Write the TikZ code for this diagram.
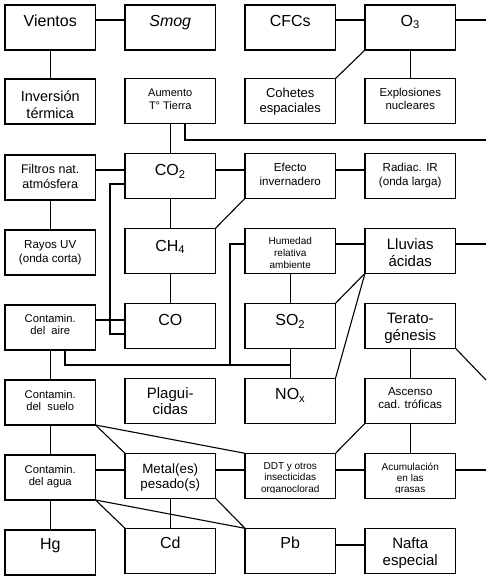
\documentclass[tikz,border=0pt]{standalone}
\usepackage{fontspec}
\setmainfont{Liberation Sans}
\newcommand{\fs}[2]{\fontsize{#1pt}{#2pt}\selectfont}
\newcommand{\bxt}[4][10]{%
  \begin{scope}
    \clip (#2.south west) rectangle (#2.north east);
    \node[txt,font={#3}] (#2-t) at ([yshift=-#1pt]#2.north) {#4};
  \end{scope}}
\newcommand{\bxc}[4][10]{%
  \begin{scope}
    \clip ([yshift=6pt]#2.south west) rectangle (#2.north east);
    \node[txt,font={#3}] (#2-t) at ([yshift=-#1pt]#2.north) {#4};
  \end{scope}}
\tikzset{
  bx/.style={draw, line width=1.1pt, rectangle, minimum width=90.5pt, minimum height=45pt, inner sep=0pt, outer sep=0pt, anchor=north west},
  txt/.style={anchor=north, inner sep=0pt, align=center},
  ln/.style={line width=1.1pt}
}
\begin{document}
\begin{tikzpicture}[x=1pt,y=-1pt]
\fill[white] (0,0) rectangle (493,582);
\useasboundingbox (0,0) rectangle (493,582);
% boxes
\node[bx] (vientos) at (5,5) {};
\node[bx] (smog) at (125,5) {};
\node[bx] (cfcs) at (245,5) {};
\node[bx] (o3) at (365,5) {};
\node[bx] (inversion) at (5,79) {};
\node[bx] (aumento) at (125,78.5) {};
\node[bx] (cohetes) at (245,78.5) {};
\node[bx] (explos) at (365,78.5) {};
\node[bx] (filtros) at (5,155) {};
\node[bx] (co2) at (125,153.3) {};
\node[bx] (efecto) at (245,153.3) {};
\node[bx] (radiac) at (365,153.3) {};
\node[bx] (rayos) at (5,230) {};
\node[bx] (ch4) at (125,228.3) {};
\node[bx] (humedad) at (245,228.3) {};
\node[bx] (lluvias) at (365,228.3) {};
\node[bx] (aire) at (5,305) {};
\node[bx] (co) at (125,303.3) {};
\node[bx] (so2) at (245,303.3) {};
\node[bx] (terato) at (365,303.3) {};
\node[bx] (suelo) at (5,380) {};
\node[bx] (plag) at (125,378.3) {};
\node[bx] (nox) at (245,378.3) {};
\node[bx] (ascenso) at (365,378.3) {};
\node[bx] (agua) at (5,455) {};
\node[bx] (metal) at (125,453.3) {};
\node[bx] (ddt) at (245,453.3) {};
\node[bx] (acum) at (365,453.3) {};
\node[bx] (hg) at (5,530) {};
\node[bx] (cd) at (125,528.3) {};
\node[bx] (pb) at (245,528.3) {};
\node[bx] (nafta) at (365,528.3) {};
% texts
\bxt{vientos}{\fs{16}{18.4}}{Vientos}
\bxt{smog}{\fs{16}{18.4}\itshape}{Smog}
\bxt{cfcs}{\fs{16}{18.4}}{CFCs}
\bxt{o3}{\fs{16}{18.4}}{O\textsubscript{3}}
\bxt[11.5]{inversion}{\fs{14.5}{16.7}}{Inversión\\térmica}
\bxt{aumento}{\fs{11}{13.3}}{Aumento\\T° Tierra}
\bxt[9.5]{cohetes}{\fs{13}{15.3}}{Cohetes\\espaciales}
\bxt{explos}{\fs{11.4}{13}}{Explosiones\\nucleares}
\bxt[9]{filtros}{\fs{12.5}{15}}{Filtros nat.\\atmósfera}
\bxt[11]{co2}{\fs{16}{18.4}}{CO\textsubscript{2}}
\bxt[9.5]{efecto}{\fs{11.6}{14.2}}{Efecto\\invernadero}
\bxt[9.5]{radiac}{\fs{11.6}{14.2}}{Radiac. IR\\(onda larga)}
\bxt{rayos}{\fs{11.6}{14}}{Rayos UV\\(onda corta)}
\bxt[11.5]{ch4}{\fs{16}{18.4}}{CH\textsubscript{4}}
\bxt[8.7]{humedad}{\fs{10}{12}}{Humedad\\relativa\\ambiente}
\bxt{lluvias}{\fs{15}{16.7}}{Lluvias\\ácidas}
\bxt[9]{aire}{\fs{11.2}{12.5}}{Contamin.\\del~ aire}
\bxt[11]{co}{\fs{16}{18.4}}{CO}
\bxt[11]{so2}{\fs{16}{18.4}}{SO\textsubscript{2}}
\bxc{terato}{\fs{15}{16.5}}{Terato-\\génesis}
\bxt{suelo}{\fs{11.2}{12.5}}{Contamin.\\del~ suelo}
\bxt[8.7]{plag}{\fs{15}{16.7}}{Plagui-\\cidas}
\bxt{nox}{\fs{16}{18.4}}{NO\textsubscript{x}}
\bxt[8.7]{ascenso}{\fs{11.6}{13.3}}{Ascenso\\cad. tróficas}
\bxt{agua}{\fs{11.2}{12.5}}{Contamin.\\del agua}
\bxt{metal}{\fs{13.4}{15.7}}{Metal(es)\\pesado(s)}
\bxc[9.3]{ddt}{\fs{10}{11.2}}{DDT y otros\\insecticidas\\organoclorad}
\bxc[9.3]{acum}{\fs{10}{11.2}}{Acumulación\\en las\\grasas}
\bxt[8.5]{hg}{\fs{16}{18.4}}{Hg}
\bxt[8.5]{cd}{\fs{16}{18.4}}{Cd}
\bxt[8.5]{pb}{\fs{16}{18.4}}{Pb}
\bxc[9.3]{nafta}{\fs{15}{17.3}}{Nafta\\especial}
% helper coordinates
\coordinate (R) at (486,0);
\coordinate (h1) at (0,20);
\coordinate (h140) at (0,140);
\coordinate (h3) at (0,170);
\coordinate (h184) at (0,184);
\coordinate (h4) at (0,244);
\coordinate (h5) at (0,320);
\coordinate (h334) at (0,334);
\coordinate (h365) at (0,365);
\coordinate (h380) at (0,380);
\coordinate (h7) at (0,470);
\coordinate (h8) at (0,545);
\coordinate (v65) at (65,0);
\coordinate (v110) at (110,0);
\coordinate (v185) at (185,0);
\coordinate (v230) at (230,0);
% connectors
\draw[ln] (vientos.east |- h1) -- (smog.west |- h1);
\draw[ln] (cfcs.east |- h1) -- (o3.west |- h1);
\draw[ln] (o3.east |- h1) -- (R |- h1);
\draw[ln] (vientos) -- (inversion);
\draw[ln] (o3.south west) -- (cohetes.north east);
\draw[ln] (o3) -- (explos);
\draw[ln] (aumento) -- (co2);
\draw[ln] (aumento.south -| v185) |- (R |- h140);
\draw[ln] (filtros.east |- h3) -- (co2.west |- h3);
\draw[ln] (co2.east |- h3) -- (efecto.west |- h3);
\draw[ln] (efecto.east |- h3) -- (radiac.west |- h3);
\draw[ln] (filtros) -- (rayos);
\draw[ln] (co2) -- (ch4);
\draw[ln] (ch4.north east) -- (efecto.south west);
\draw[ln] (co2.west |- h184) -| (v110 |- h334) -- (co.west |- h334);
\draw[ln] (aire.east |- h5) -- (co.west |- h5);
\draw[ln] (ch4) -- (co);
\draw[ln] (humedad.west |- h4) -| (v230 |- h365);
\draw[ln] (aire.south -| v65) |- (so2.south |- h365);
\draw[ln] (humedad.east |- h4) -- (lluvias.west |- h4);
\draw[ln] (lluvias.east |- h4) -- (R |- h4);
\draw[ln] (humedad) -- (so2);
\draw[ln] (so2.north east) -- (lluvias.south west);
\draw[ln] (nox.north east) -- (lluvias.south west);
\draw[ln] (so2) -- (nox);
\draw[ln] (terato) -- (ascenso);
\draw[ln] (terato.south east) -- (R |- h380);
\draw[ln] (aire) -- (suelo);
\draw[ln] (suelo) -- (agua);
\draw[ln] (agua) -- (hg);
\draw[ln] (suelo.south east) -- (metal.north west);
\draw[ln] (suelo.south east) -- (ddt.north west);
\draw[ln] (ascenso.south west) -- (ddt.north east);
\draw[ln] (ascenso) -- (acum);
\draw[ln] (agua.east |- h7) -- (metal.west |- h7);
\draw[ln] (metal.east |- h7) -- (ddt.west |- h7);
\draw[ln] (ddt.east |- h7) -- (acum.west |- h7);
\draw[ln] (acum.east |- h7) -- (R |- h7);
\draw[ln] (agua.south east) -- (cd.north west);
\draw[ln] (agua.south east) -- (pb.north west);
\draw[ln] (metal.south east) -- (pb.north west);
\draw[ln] (metal) -- (cd);
\draw[ln] (pb.east |- h8) -- (nafta.west |- h8);
\end{tikzpicture}
\end{document}
